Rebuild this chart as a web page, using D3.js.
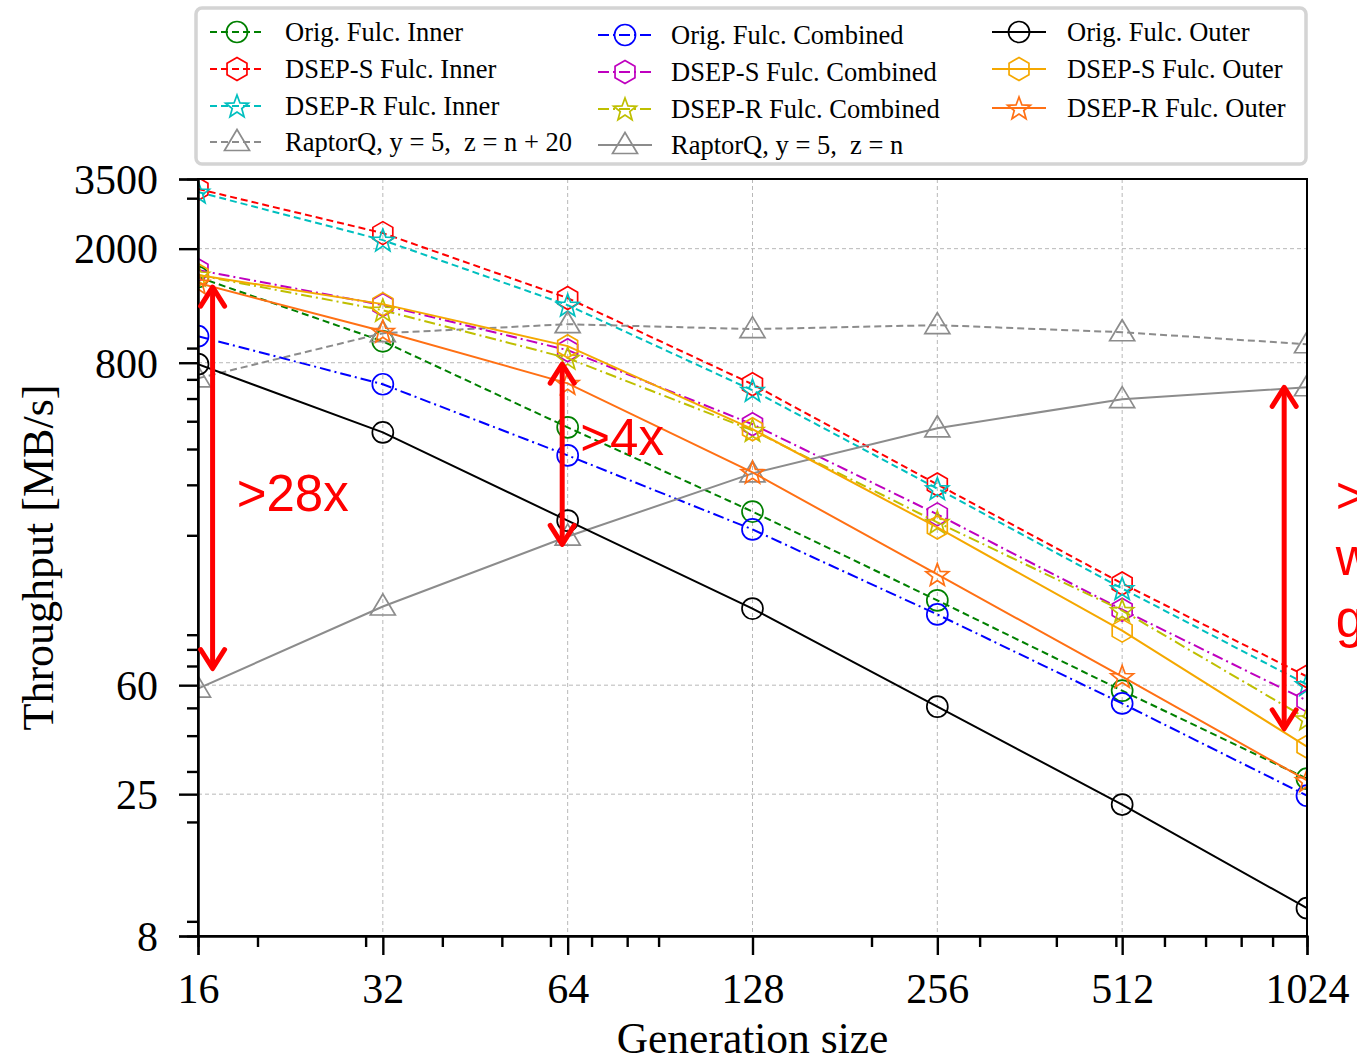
<!DOCTYPE html>
<html>
<head>
<meta charset="utf-8">
<script src="https://cdn.jsdelivr.net/npm/d3@7"></script>
<style>
  html, body { margin: 0; padding: 0; background: #fff; }
  svg { display: block; }
</style>
</head>
<body>
<svg id="chart" width="1357" height="1061"></svg>
<script>
// ---------------- DATA ----------------
const genSizes = [16, 32, 64, 128, 256, 512, 1024];

const origInner      = [1592, 950, 476, 242, 118.6, 57.4, 28.3];
const dsepSInner     = [3231, 2266, 1345, 673, 301, 135.8, 64.3];
const dsepRInner     = [3152, 2142, 1271, 641, 291, 130.4, 60.3];
const raptorN20      = [706, 1014, 1090, 1048, 1082, 1022, 928];
const origCombined   = [990, 673, 380, 209.6, 105.9, 51.8, 24.7];
const dsepSCombined  = [1684, 1271, 885, 488, 236.6, 110, 53];
const dsepRCombined  = [1618, 1220, 830, 465, 222, 109.3, 45.8];
const raptorN        = [58.4, 112.9, 198, 329, 472.5, 597, 657];
const origOuter      = [791, 457, 225, 111, 50.5, 23, 10.0];
const dsepSOuter     = [1618, 1281, 914, 469, 213, 93, 36.6];
const dsepROuter     = [1517, 1030, 678, 331.6, 146, 64.3, 27.9];

const seriesNames = [
  "Orig. Fulc. Inner", "DSEP-S Fulc. Inner", "DSEP-R Fulc. Inner", "RaptorQ, y = 5,\u2002z = n + 20",
  "Orig. Fulc. Combined", "DSEP-S Fulc. Combined", "DSEP-R Fulc. Combined", "RaptorQ, y = 5,\u2002z = n",
  "Orig. Fulc. Outer", "DSEP-S Fulc. Outer", "DSEP-R Fulc. Outer"
];
const seriesValues = [
  origInner, dsepSInner, dsepRInner, raptorN20,
  origCombined, dsepSCombined, dsepRCombined, raptorN,
  origOuter, dsepSOuter, dsepROuter
];

const xMajorTicks = [16, 32, 64, 128, 256, 512, 1024];
const xMinorTicks = [20, 30, 40, 50, 60, 70, 80, 90, 200, 300, 400, 500, 600, 700, 800, 900];
const yMajorTicks = [8, 25, 60, 800, 2000, 3500];
const yMinorTicks = [9, 20, 30, 40, 50, 70, 80, 90, 200, 300, 400, 500, 600, 700, 900, 3000];

// annotations (data coordinates)
const arrowX      = [16.9, 62.7, 940];
const arrowTop    = [1493, 804, 667];
const arrowBottom = [67.5, 183, 41.6];
const noteTexts   = [">28x", ">4x"];
const noteX       = [18.5, 67.1];
const noteY       = [244, 380];
const sideTexts   = [">", "w", "g"];
const sideX       = 1141;
const sideY       = [240, 145, 88.7];

// ---------------- STYLES ----------------
const styles = [
  {color: "#008000", dash: "7,4",        marker: "circle"},
  {color: "#ff0000", dash: "7,4",        marker: "hexagon"},
  {color: "#00bfbf", dash: "7,4",        marker: "star"},
  {color: "#8c8c8c", dash: "7,4",        marker: "triangle"},
  {color: "#0000ff", dash: "11,4,2,4",   marker: "circle"},
  {color: "#bf00bf", dash: "11,4,2,4",   marker: "hexagon"},
  {color: "#bfbf00", dash: "11,4,2,4",   marker: "star"},
  {color: "#8c8c8c", dash: null,         marker: "triangle"},
  {color: "#000000", dash: null,         marker: "circle"},
  {color: "#f5a800", dash: null,         marker: "hexagon"},
  {color: "#ff7014", dash: null,         marker: "star"}
];

// ---------------- LAYOUT ----------------
const svg = d3.select("#chart");
const pLeft = 198, pRight = 1307, pTop = 179, pBottom = 936;

const x = d3.scaleLog().base(2).domain([16, 1024]).range([pLeft, pRight]);
const y = d3.scaleLog().domain([8, 3500]).range([pBottom, pTop]);

const serif = "'Liberation Serif', 'Times New Roman', serif";
const sans = "'Liberation Sans', Arial, sans-serif";

svg.append("defs").append("clipPath").attr("id", "plotclip")
  .append("rect").attr("x", pLeft).attr("y", pTop)
  .attr("width", pRight - pLeft).attr("height", pBottom - pTop);

// grid
const grid = svg.append("g");
grid.selectAll("line.gx").data(xMajorTicks.slice(1, -1)).join("line")
  .attr("x1", d => x(d)).attr("x2", d => x(d)).attr("y1", pTop).attr("y2", pBottom)
  .attr("stroke", "#b8b8b8").attr("stroke-width", 1).attr("stroke-dasharray", "4,3");
grid.selectAll("line.gy").data(yMajorTicks.slice(1, -1)).join("line")
  .attr("y1", d => y(d)).attr("y2", d => y(d)).attr("x1", pLeft).attr("x2", pRight)
  .attr("stroke", "#b8b8b8").attr("stroke-width", 1).attr("stroke-dasharray", "4,3");

// marker shapes
function markerPath(type) {
  if (type === "circle") return d3.symbol(d3.symbolCircle, Math.PI * 10.5 * 10.5)();
  if (type === "hexagon") {
    const r = 11.5; const pts = [];
    for (let i = 0; i < 6; i++) { const a = -Math.PI / 2 + i * Math.PI / 3; pts.push([r * Math.cos(a), r * Math.sin(a)]); }
    return "M" + pts.map(p => p.join(",")).join("L") + "Z";
  }
  if (type === "star") {
    const R = 12, r = 5; const pts = [];
    for (let i = 0; i < 10; i++) { const a = -Math.PI / 2 + i * Math.PI / 5; const rr = i % 2 ? r : R; pts.push([rr * Math.cos(a), rr * Math.sin(a) + 1]); }
    return "M" + pts.map(p => p.join(",")).join("L") + "Z";
  }
  if (type === "triangle") {
    const w = 12.5, h = 21;
    return `M0,${-h/2 - 2}L${w},${h/2 - 2}L${-w},${h/2 - 2}Z`;
  }
}

// series
const plot = svg.append("g").attr("clip-path", "url(#plotclip)");
const line = d3.line().x((d, i) => x(genSizes[i])).y(d => y(d));
seriesValues.forEach((vals, si) => {
  const st = styles[si];
  const g = plot.append("g");
  g.append("path").datum(vals).attr("d", line)
    .attr("fill", "none").attr("stroke", st.color).attr("stroke-width", 2)
    .attr("stroke-dasharray", st.dash);
  g.selectAll("path.m").data(vals).join("path").attr("class", "m")
    .attr("d", markerPath(st.marker))
    .attr("transform", (d, i) => `translate(${x(genSizes[i])},${y(d)})`)
    .attr("fill", "none").attr("stroke", st.color).attr("stroke-width", 1.7);
});

// frame
svg.append("rect").attr("x", pLeft).attr("y", pTop).attr("width", pRight - pLeft).attr("height", pBottom - pTop)
  .attr("fill", "none").attr("stroke", "#000").attr("stroke-width", 2);

// axes
const xAxis = svg.append("g").attr("transform", `translate(0,${pBottom})`)
  .call(d3.axisBottom(x).tickValues(xMajorTicks).tickFormat(d3.format("d")).tickSize(19).tickPadding(18));
const xAxisMinor = svg.append("g").attr("transform", `translate(0,${pBottom})`)
  .call(d3.axisBottom(x).tickValues(xMinorTicks).tickFormat("").tickSize(11));
const yAxis = svg.append("g").attr("transform", `translate(${pLeft},0)`)
  .call(d3.axisLeft(y).tickValues(yMajorTicks).tickFormat(d3.format("d")).tickSize(19).tickPadding(21));
const yAxisMinor = svg.append("g").attr("transform", `translate(${pLeft},0)`)
  .call(d3.axisLeft(y).tickValues(yMinorTicks).tickFormat("").tickSize(11));

[xAxis, xAxisMinor, yAxis, yAxisMinor].forEach(a => {
  a.select(".domain").attr("stroke", "#000").attr("stroke-width", 2);
  a.selectAll(".tick line").attr("stroke", "#000").attr("stroke-width", 2.4);
  a.selectAll(".tick text").attr("fill", "#000").style("font-family", serif).style("font-size", "42px");
});
xAxis.selectAll(".tick text").attr("dy", "0.72em");
yAxis.selectAll(".tick text").attr("dy", "0.34em");

// axis titles
svg.append("text").attr("x", (pLeft + pRight) / 2).attr("y", 1053).attr("text-anchor", "middle")
  .style("font-family", serif).style("font-size", "43.5px").attr("fill", "#000").text("Generation size");
svg.append("text").attr("transform", `translate(53,${(pTop + pBottom) / 2}) rotate(-90)`).attr("text-anchor", "middle")
  .style("font-family", serif).style("font-size", "44px").attr("fill", "#000").text("Throughput [MB/s]");

// legend
const leg = svg.append("g");
leg.append("rect").attr("x", 196).attr("y", 8).attr("width", 1110).attr("height", 156).attr("rx", 6)
  .attr("fill", "#fff").attr("stroke", "#d4d4d4").attr("stroke-width", 3.5);
const colLineX = [210, 598, 992];
const colTextX = [285, 671, 1067];
const rowY = [[32, 69, 106, 142], [35, 72, 109, 145], [32, 69, 108, 145]];
seriesNames.forEach((name, i) => {
  const col = Math.floor(i / 4), row = i % 4;
  const st = styles[i];
  const cy = rowY[col][row];
  const x0 = colLineX[col], x1 = x0 + 54, xm = (x0 + x1) / 2;
  leg.append("line").attr("x1", x0).attr("x2", x1).attr("y1", cy).attr("y2", cy)
    .attr("stroke", st.color).attr("stroke-width", 2).attr("stroke-dasharray", st.dash);
  leg.append("path").attr("d", markerPath(st.marker)).attr("transform", `translate(${xm},${cy})`)
    .attr("fill", "none").attr("stroke", st.color).attr("stroke-width", 1.7);
  leg.append("text").attr("x", colTextX[col]).attr("y", cy).attr("dy", "0.33em")
    .style("font-family", serif).style("font-size", "26.5px").attr("fill", "#000").text(name);
});

// annotations
const ann = svg.append("g");
arrowX.forEach((ax, i) => {
  const px = x(ax), y1 = y(arrowTop[i]), y2 = y(arrowBottom[i]);
  ann.append("line").attr("x1", px).attr("x2", px).attr("y1", y1 + 2).attr("y2", y2 - 2)
    .attr("stroke", "#ff0000").attr("stroke-width", 5);
  ann.append("path").attr("d", `M${px - 12},${y1 + 21}L${px},${y1 + 2}L${px + 12},${y1 + 21}`)
    .attr("fill", "none").attr("stroke", "#ff0000").attr("stroke-width", 5).attr("stroke-linecap", "round").attr("stroke-linejoin", "round");
  ann.append("path").attr("d", `M${px - 12},${y2 - 21}L${px},${y2 - 2}L${px + 12},${y2 - 21}`)
    .attr("fill", "none").attr("stroke", "#ff0000").attr("stroke-width", 5).attr("stroke-linecap", "round").attr("stroke-linejoin", "round");
});
noteTexts.forEach((t, i) => {
  ann.append("text").attr("x", x(noteX[i])).attr("y", y(noteY[i]))
    .style("font-family", sans).style("font-size", "51px").attr("fill", "#ff0000").text(t);
});
sideTexts.forEach((t, i) => {
  ann.append("text").attr("x", x(sideX)).attr("y", y(sideY[i]))
    .style("font-family", sans).style("font-size", "51px").attr("fill", "#ff0000").text(t);
});
</script>
</body>
</html>
